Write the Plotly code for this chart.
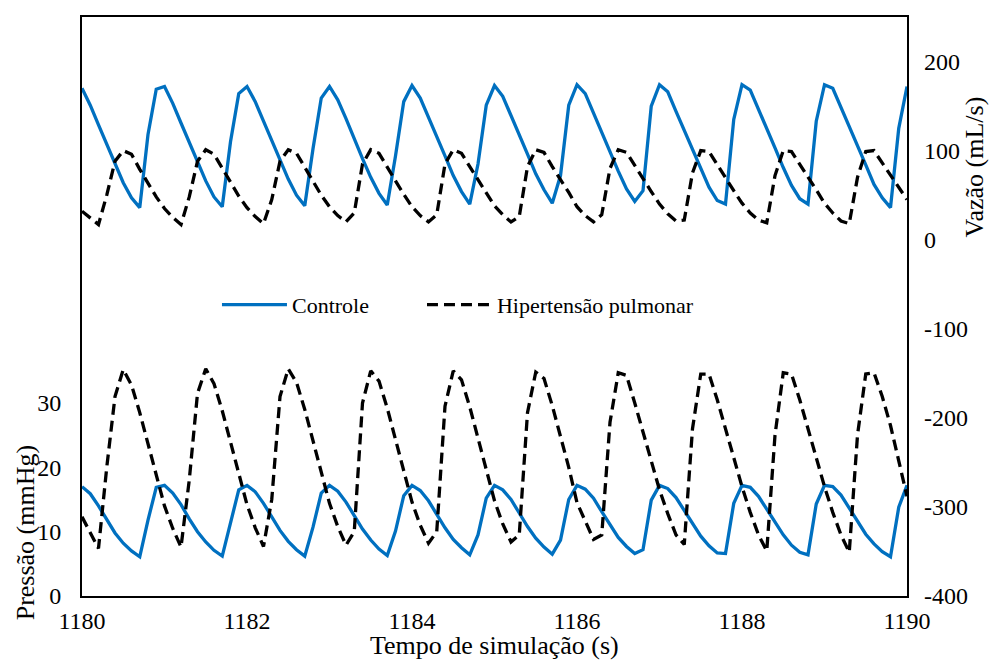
import plotly.graph_objects as go

# ---- data ----
tempo = [
    1180.0, 1180.1, 1180.2, 1180.3, 1180.4, 1180.5, 1180.6, 1180.7, 1180.8, 1180.9,
    1181.0, 1181.1, 1181.2, 1181.3, 1181.4, 1181.5, 1181.6, 1181.7, 1181.8, 1181.9,
    1182.0, 1182.1, 1182.2, 1182.3, 1182.4, 1182.5, 1182.6, 1182.7, 1182.8, 1182.9,
    1183.0, 1183.1, 1183.2, 1183.3, 1183.4, 1183.5, 1183.6, 1183.7, 1183.8, 1183.9,
    1184.0, 1184.1, 1184.2, 1184.3, 1184.4, 1184.5, 1184.6, 1184.7, 1184.8, 1184.9,
    1185.0, 1185.1, 1185.2, 1185.3, 1185.4, 1185.5, 1185.6, 1185.7, 1185.8, 1185.9,
    1186.0, 1186.1, 1186.2, 1186.3, 1186.4, 1186.5, 1186.6, 1186.7, 1186.8, 1186.9,
    1187.0, 1187.1, 1187.2, 1187.3, 1187.4, 1187.5, 1187.6, 1187.7, 1187.8, 1187.9,
    1188.0, 1188.1, 1188.2, 1188.3, 1188.4, 1188.5, 1188.6, 1188.7, 1188.8, 1188.9,
    1189.0, 1189.1, 1189.2, 1189.3, 1189.4, 1189.5, 1189.6, 1189.7, 1189.8, 1189.9,
    1190.0,
]

# Vazão (mL/s) - Controle
vazao_controle = [
    170, 151, 129, 107, 85, 64, 47, 36, 118, 169,
    172, 153, 131, 109, 87, 66, 48, 37, 110, 164,
    172, 155, 133, 111, 89, 68, 50, 38, 102, 159,
    172, 157, 136, 113, 91, 70, 52, 39, 94, 155,
    173, 159, 138, 116, 94, 72, 54, 40, 85, 151,
    173, 161, 140, 118, 96, 74, 56, 41, 72, 151,
    174, 164, 142, 120, 98, 77, 57, 43, 55, 150,
    174, 166, 144, 123, 101, 79, 59, 44, 40, 135,
    174, 168, 147, 125, 103, 81, 61, 46, 40, 133,
    174, 170, 149, 127, 105, 84, 62, 47, 36, 125,
    172,
]

# Vazão (mL/s) - Hipertensão pulmonar
vazao_hipertensao = [
    32, 24, 17, 50, 88, 100, 96, 79, 63, 48,
    35, 25, 17, 48, 88, 101, 96, 80, 64, 49,
    36, 26, 18, 45, 88, 101, 97, 81, 65, 50,
    37, 27, 20, 30, 85, 101, 97, 81, 66, 51,
    37, 27, 20, 28, 85, 101, 97, 82, 67, 52,
    38, 28, 20, 26, 82, 101, 98, 82, 68, 53,
    37, 27, 20, 28, 80, 101, 98, 83, 69, 54,
    40, 29, 21, 22, 75, 100, 99, 84, 70, 55,
    41, 30, 22, 19, 72, 100, 99, 85, 71, 56,
    41, 30, 21, 18, 70, 99, 100, 86, 72, 58,
    45,
]

# Pressão (mmHg) - Controle
pressao_controle = [
    17.0, 15.9, 14.0, 11.8, 9.8, 8.2, 7.0, 6.1, 11.8, 16.9,
    17.2, 16.0, 14.2, 12.0, 10.0, 8.4, 7.1, 6.2, 11.3, 16.5,
    17.2, 16.2, 14.4, 12.2, 10.2, 8.5, 7.2, 6.2, 10.7, 16.0,
    17.2, 16.3, 14.6, 12.5, 10.4, 8.7, 7.3, 6.3, 10.1, 15.6,
    17.2, 16.4, 14.8, 12.7, 10.6, 8.8, 7.5, 6.4, 9.5, 15.2,
    17.2, 16.5, 15.0, 12.9, 10.8, 9.0, 7.6, 6.5, 8.7, 15.0,
    17.2, 16.6, 15.2, 13.1, 11.0, 9.1, 7.7, 6.6, 7.2, 14.9,
    17.2, 16.7, 15.3, 13.3, 11.2, 9.3, 7.8, 6.7, 6.6, 14.4,
    17.2, 16.9, 15.5, 13.5, 11.4, 9.5, 7.9, 6.8, 6.4, 14.3,
    17.2, 17.0, 15.7, 13.7, 11.6, 9.6, 8.1, 6.9, 6.1, 13.8,
    17.2,
]

# Pressão (mmHg) - Hipertensão pulmonar
pressao_hipertensao = [
    12.3, 9.8, 7.4, 20.0, 31.0, 35.2, 32.8, 28.5, 23.5, 18.5,
    14.0, 10.5, 7.6, 18.0, 31.5, 35.3, 33.0, 28.8, 23.8, 18.8,
    14.2, 10.6, 7.7, 15.0, 31.0, 35.3, 33.2, 29.0, 24.0, 19.0,
    14.4, 10.8, 7.9, 10.0, 30.0, 35.0, 33.4, 29.2, 24.2, 19.3,
    14.6, 11.0, 8.2, 10.0, 29.5, 35.0, 33.6, 29.4, 24.5, 19.6,
    14.8, 11.2, 8.4, 9.5, 28.5, 34.8, 33.8, 29.6, 25.0, 20.0,
    14.5, 11.5, 8.8, 9.5, 27.0, 34.7, 34.3, 30.0, 25.5, 21.0,
    16.5, 12.8, 9.5, 8.0, 26.0, 34.5, 34.5, 30.5, 26.0, 21.5,
    17.0, 13.0, 9.5, 7.0, 25.0, 34.7, 34.5, 30.5, 26.0, 21.5,
    17.0, 13.0, 9.5, 6.8, 25.0, 34.5, 34.7, 31.0, 26.5, 21.0,
    15.5,
]

x_ticks = [1180, 1182, 1184, 1186, 1188, 1190]
y_left_ticks = [0, 10, 20, 30]
y_right_ticks = [-400, -300, -200, -100, 0, 100, 200]
y_right_labels = ["-400", "-300", "-200", "-100", "0", "100", "200"]

BLUE = "#0070C0"
BLACK = "#000000"
FONT = "Liberation Serif, Times New Roman, serif"

fig = go.Figure()
fig.add_trace(go.Scatter(x=tempo, y=pressao_controle, mode="lines", name="Controle",
                         line=dict(color=BLUE, width=3.3), yaxis="y", legendwidth=125))
fig.add_trace(go.Scatter(x=tempo, y=pressao_hipertensao, mode="lines", name="Hipertensão pulmonar",
                         line=dict(color=BLACK, width=3.3, dash="11px,6px"), yaxis="y"))
fig.add_trace(go.Scatter(x=tempo, y=vazao_controle, mode="lines", name="Controle",
                         line=dict(color=BLUE, width=3.3), yaxis="y2", showlegend=False))
fig.add_trace(go.Scatter(x=tempo, y=vazao_hipertensao, mode="lines", name="Hipertensão pulmonar",
                         line=dict(color=BLACK, width=3.3, dash="11px,6px"), yaxis="y2", showlegend=False))

# the page body has an 8px margin, so the figure is sized to fill the rest of the window
fig.update_layout(
    width=992, height=652,
    margin=dict(l=74, r=93, t=7, b=64),
    paper_bgcolor="white", plot_bgcolor="white",
    font=dict(family=FONT, size=24, color="black"),
    xaxis=dict(range=[1180, 1190], tickvals=x_ticks, ticks="", showgrid=False, zeroline=False,
               showline=True, mirror=True, linecolor="black", linewidth=2,
               tickfont=dict(family=FONT, size=24, color="black"), ticklabelstandoff=2),
    yaxis=dict(range=[0, 90], tickvals=y_left_ticks, ticks="", showgrid=False, zeroline=False,
               showline=True, mirror=True, linecolor="black", linewidth=2,
               tickfont=dict(family=FONT, size=24, color="black"), ticklabelstandoff=14),
    yaxis2=dict(range=[-400, 250], tickvals=y_right_ticks, ticktext=y_right_labels, ticks="",
                showgrid=False, zeroline=False, overlaying="y", side="right", showline=False,
                tickfont=dict(family=FONT, size=24, color="black"), ticklabelstandoff=16),
    legend=dict(orientation="h", x=0.1636, y=0.503, xanchor="left", yanchor="middle",
                itemwidth=65,
                font=dict(family=FONT, size=22, color="black"), bgcolor="rgba(0,0,0,0)"),
    showlegend=True,
    annotations=[
        dict(text="Tempo de simulação (s)", xref="paper", yref="paper", x=0.5, y=-0.085,
             xanchor="center", yanchor="middle", showarrow=False,
             font=dict(family=FONT, size=26, color="black")),
        dict(text="Pressão (mmHg)", xref="paper", yref="paper", x=-0.069, y=0.1084,
             xanchor="center", yanchor="middle", showarrow=False, textangle=-90,
             font=dict(family=FONT, size=26, color="black")),
        dict(text="Vazão (mL/s)", xref="paper", yref="paper", x=1.0824, y=0.7418,
             xanchor="center", yanchor="middle", showarrow=False, textangle=-90,
             font=dict(family=FONT, size=26, color="black")),
    ],
)

fig.write_html("out.html")
